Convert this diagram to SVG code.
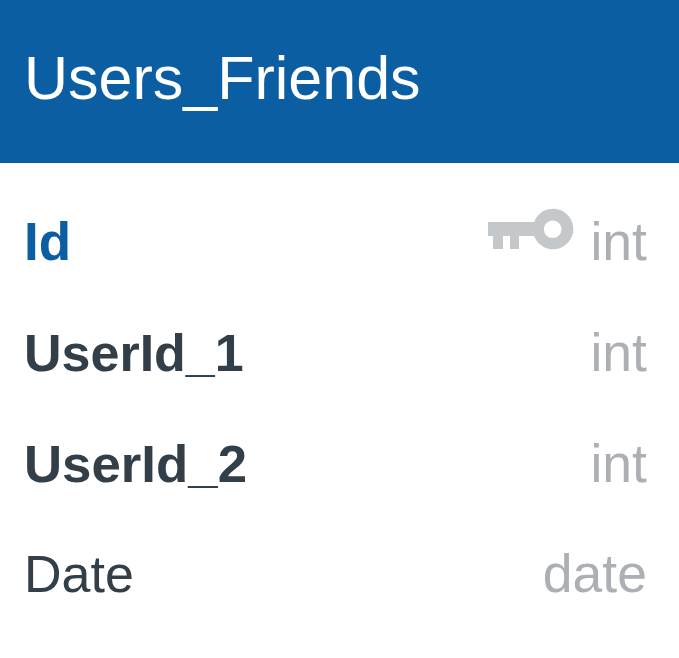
<svg xmlns="http://www.w3.org/2000/svg" width="679" height="658" viewBox="0 0 679 658">
<style>
text{font-family:"Liberation Sans",Arial,sans-serif;font-size:52px}
.n{fill:#323e48;font-weight:700}
.t{fill:#acb0b5;text-anchor:end;font-size:53.5px}
</style>
<rect width="679" height="658" fill="#fff"/>
<g id="header"><rect width="679" height="163" fill="#0b5ea2"/><text x="24" y="99" style="font-size:61px" fill="#fff">Users_Friends</text></g>
<g id="row-id"><text x="24" y="260" class="n" style="fill:#0b5ea2;font-size:53px">Id</text>
<g id="key-icon"><path fill="#c5c8ca" fill-rule="evenodd" d="M488 222H534A20.3 20.3 0 1 1 534 236H519V249H510V236H503V249H493V236H488ZM552.7 220.5A8.8 8.8 0 1 0 552.7 238.1A8.8 8.8 0 1 0 552.7 220.5Z"/></g>
<text x="647" y="260" class="t">int</text></g>
<g id="row-user1"><text x="24" y="371" class="n">UserId_1</text><text x="647" y="371" class="t">int</text></g>
<g id="row-user2"><text x="24" y="482" class="n" textLength="223" lengthAdjust="spacingAndGlyphs">UserId_2</text><text x="647" y="482" class="t">int</text></g>
<g id="row-date"><text x="24" y="592" style="fill:#323e48">Date</text><text x="647" y="592" class="t">date</text></g>
</svg>
